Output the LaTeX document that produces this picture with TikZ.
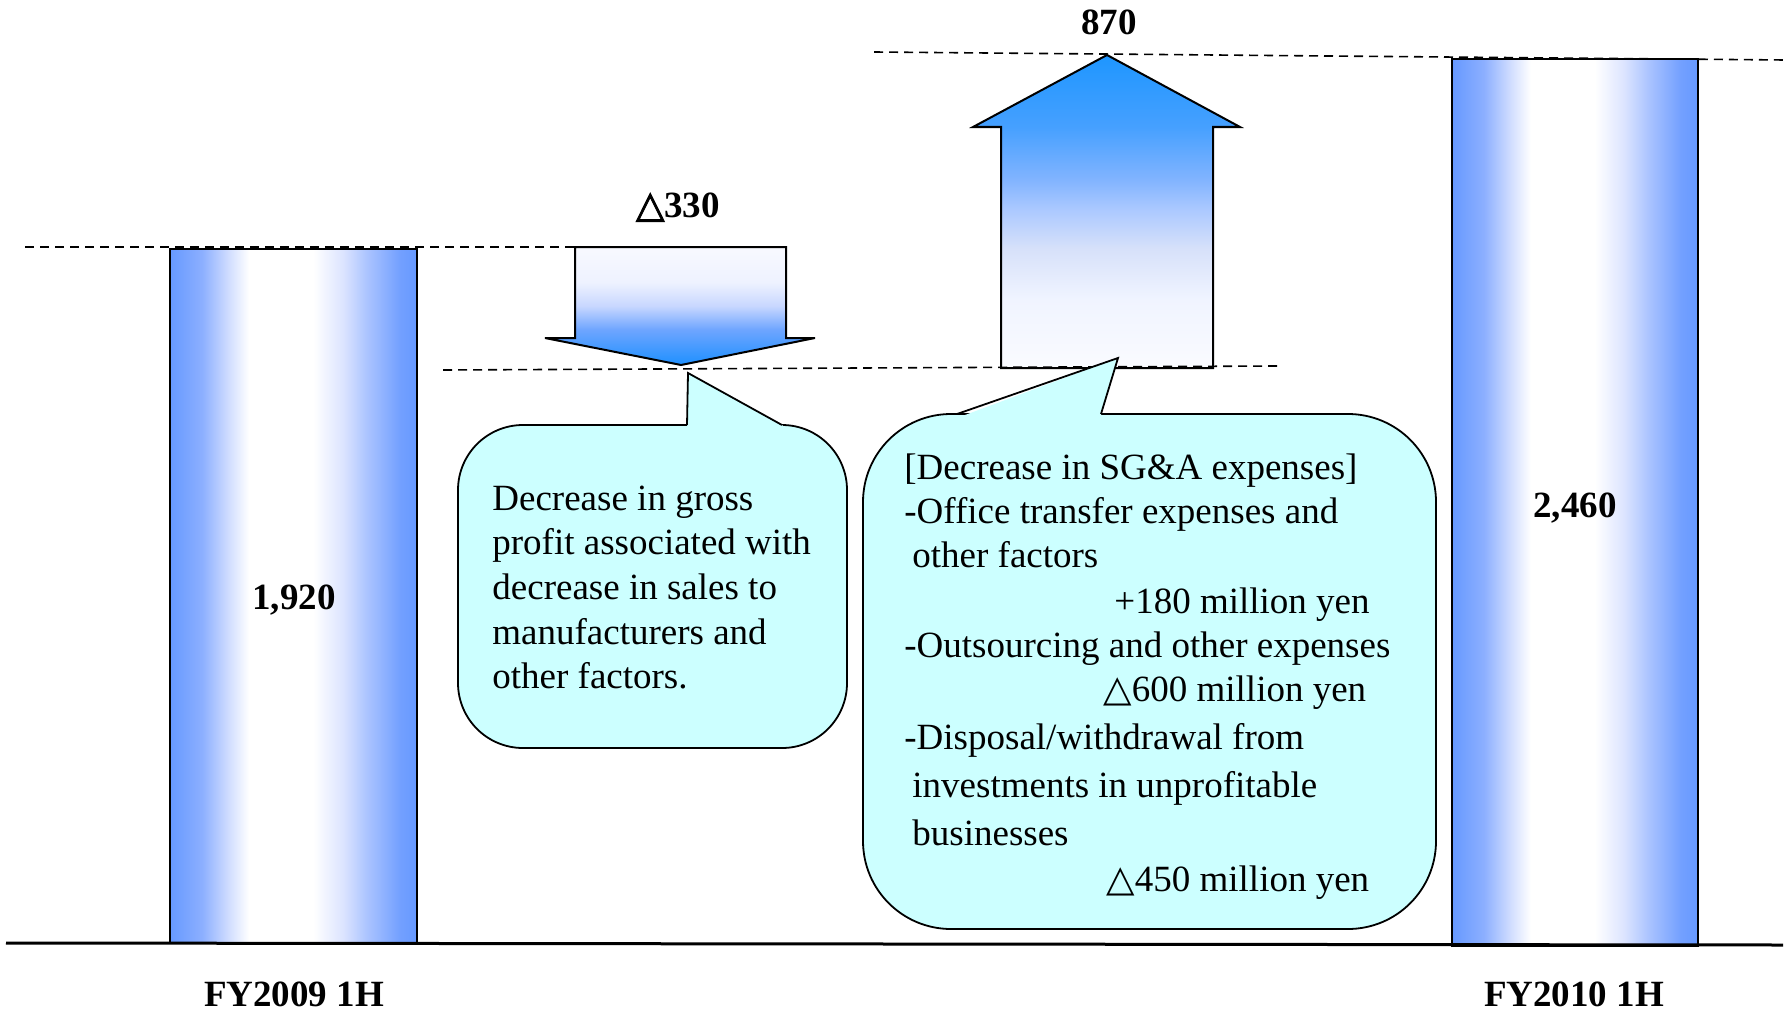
\documentclass[tikz,border=0pt]{standalone}
\usepackage{fontspec}
\setmainfont{Liberation Serif}
\newfontfamily\trifont{DejaVu Sans}
\newfontfamily\trifontbold[FakeBold=2.5]{DejaVu Sans}
\definecolor{barblue}{RGB}{102,153,255}
\definecolor{barA}{RGB}{140,175,255}
\definecolor{barB}{RGB}{210,222,255}
\definecolor{barC}{RGB}{220,228,255}
\definecolor{barD}{RGB}{170,195,255}
\definecolor{barE}{RGB}{115,160,255}
\definecolor{dnA}{RGB}{248,249,255}
\definecolor{dnB}{RGB}{238,242,255}
\definecolor{dnC}{RGB}{200,215,255}
\definecolor{dnD}{RGB}{110,165,255}
\definecolor{dnE}{RGB}{30,144,255}
\definecolor{upA}{RGB}{30,150,255}
\definecolor{upB}{RGB}{70,160,255}
\definecolor{upC}{RGB}{130,180,255}
\definecolor{upD}{RGB}{170,200,255}
\definecolor{upE}{RGB}{215,225,250}
\definecolor{upF}{RGB}{240,244,255}
\definecolor{upG}{RGB}{250,251,255}
\definecolor{callcyan}{RGB}{204,255,255}
\pgfdeclarehorizontalshading{barshade}{100bp}{color(0bp)=(barblue); color(25bp)=(barblue); color(31.5bp)=(barA); color(37bp)=(barB); color(41bp)=(white); color(54bp)=(white); color(60bp)=(barC); color(65bp)=(barD); color(71.5bp)=(barE); color(75bp)=(barblue); color(100bp)=(barblue)}
\pgfdeclareverticalshading{downshade}{100bp}{color(0bp)=(dnE); color(25bp)=(dnE); color(40bp)=(dnD); color(50bp)=(dnC); color(60bp)=(dnB); color(75bp)=(dnA); color(100bp)=(dnA)}
\pgfdeclareverticalshading{upshade}{100bp}{color(0bp)=(upG); color(25bp)=(upG); color(36bp)=(upF); color(44bp)=(upE); color(50.5bp)=(upD); color(55bp)=(upC); color(63.5bp)=(upB); color(75bp)=(upA); color(100bp)=(upA)}
\begin{document}
\begin{tikzpicture}[x=0.5pt,y=-0.5pt,
  outline/.style={draw=black,line width=1pt},
  guide/.style={draw=black,line width=0.8pt,dash pattern=on 4.5pt off 3pt},
  callout/.style={fill=callcyan,draw=black,line width=0.9pt},
  num/.style={anchor=base,inner sep=0pt,font=\fontsize{18.5}{22}\selectfont\bfseries},
  ctext/.style={anchor=base west,inner sep=0pt,font=\fontsize{18.5}{22}\selectfont}]
\useasboundingbox (0,0) rectangle (1792,1011);
% bars
\path[shade,shading=barshade,outline] (170,249) rectangle (417,943);
\path[shade,shading=barshade,outline] (1452,59) rectangle (1698,946);
% arrows
\path[shade,shading=downshade,outline] (575,247) -- (786,247) -- (786,338) -- (815,338) -- (681,365) -- (545,338) -- (575,338) -- cycle;
\path[shade,shading=upshade,outline] (1001,368) -- (1001,127) -- (973,127) -- (1107,55) -- (1240,127) -- (1213,127) -- (1213,368) -- cycle;
% axis
\draw[line width=1.5pt] (6,943) -- (1783,945);
% guide lines
\draw[guide] (25,247) -- (575,247);
\draw[guide] (443,370) -- (1277,366);
\draw[guide] (874,52) -- (1785,60);
% left callout
\draw[callout,rounded corners=32.5pt] (458,425) rectangle (847,748);
\fill[callcyan] (687,429) -- (688,373) -- (782,425) -- (786,429) -- cycle;
\draw[line width=0.9pt,line join=miter] (687,425) -- (688,373) -- (782,425);
% right callout
\draw[callout,rounded corners=44pt] (863,414) rectangle (1436,929);
\fill[callcyan] (957,418) -- (1118,358) -- (1101,414) -- (1101,418) -- cycle;
\draw[line width=0.9pt,line join=miter] (957,414) -- (1118,358) -- (1101,414);
% labels
\node[num] (v1920) at (294,609) {1,920};
\node[num] (v2460) at (1575,517) {2,460};
\node[num] (fy09) at (294,1006) {FY2009 1H};
\node[num] (fy10) at (1574,1006) {FY2010 1H};
\node[num] (d330) at (678,217) {{\trifontbold △}330};
\node[num] (u870) at (1109,35) {870};
% left callout text
\node[ctext] (l1) at (492,510) {Decrease in gross};
\node[ctext] (l2) at (492,554) {profit associated with};
\node[ctext] (l3) at (492,599) {decrease in sales to};
\node[ctext] (l4) at (492,644) {manufacturers and};
\node[ctext] (l5) at (492,688) {other factors.};
% right callout text
\node[ctext] (r1) at (904,479) {[Decrease in SG\&A expenses]};
\node[ctext] (r2) at (904,523) {-Office transfer expenses and};
\node[ctext] (r3) at (912,567) {other factors};
\node[ctext] (r4) at (1114,613) {+180 million yen};
\node[ctext] (r5) at (904,657) {-Outsourcing and other expenses};
\node[ctext] (r6) at (1103,701) {{\trifont △}600 million yen};
\node[ctext] (r7) at (904,749) {-Disposal/withdrawal from};
\node[ctext] (r8) at (912,797) {investments in unprofitable};
\node[ctext] (r9) at (912,845) {businesses};
\node[ctext] (r10) at (1106,891) {{\trifont △}450 million yen};
\end{tikzpicture}
\end{document}
